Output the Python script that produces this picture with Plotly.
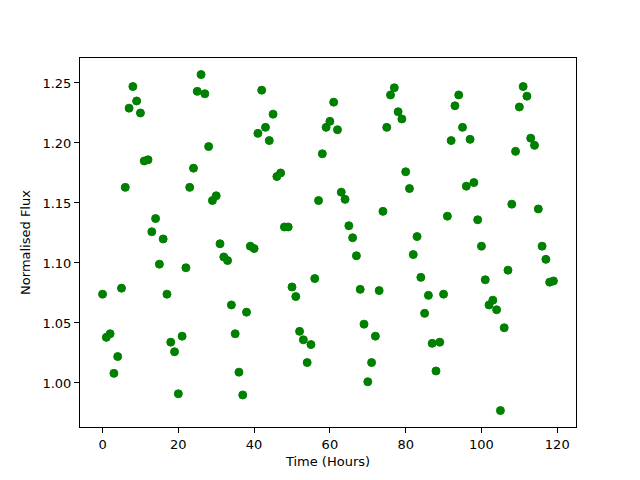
import plotly.graph_objects as go

hours = list(range(120))
flux = [
    1.074, 1.038, 1.041, 1.008, 1.022, 1.079, 1.163, 1.229, 1.247, 1.235,
    1.225, 1.185, 1.186, 1.126, 1.137, 1.099, 1.120, 1.074, 1.034, 1.026,
    0.991, 1.039, 1.096, 1.163, 1.179, 1.243, 1.257, 1.241, 1.197, 1.152,
    1.156, 1.116, 1.105, 1.102, 1.065, 1.041, 1.009, 0.990, 1.059, 1.114,
    1.112, 1.208, 1.244, 1.213, 1.202, 1.224, 1.172, 1.175, 1.130, 1.130,
    1.080, 1.072, 1.043, 1.036, 1.017, 1.032, 1.087, 1.152, 1.191, 1.213,
    1.218, 1.234, 1.211, 1.159, 1.153, 1.131, 1.121, 1.106, 1.078, 1.049,
    1.001, 1.017, 1.039, 1.077, 1.143, 1.213, 1.240, 1.246, 1.226, 1.220,
    1.176, 1.162, 1.107, 1.122, 1.088, 1.058, 1.073, 1.033, 1.010, 1.034,
    1.074, 1.139, 1.202, 1.231, 1.240, 1.213, 1.164, 1.203, 1.167, 1.136,
    1.114, 1.086, 1.065, 1.069, 1.061, 0.977, 1.046, 1.094, 1.149, 1.193,
    1.230, 1.247, 1.239, 1.204, 1.198, 1.145, 1.114, 1.103, 1.084, 1.085,
]
x_ticks = [0, 20, 40, 60, 80, 100, 120]
y_ticks = [1.00, 1.05, 1.10, 1.15, 1.20, 1.25]

fig = go.Figure(go.Scatter(
    x=hours, y=flux, mode="markers",
    marker=dict(color="#008000", size=8, line=dict(color="#008000", width=1)),
))

axis_common = dict(
    showgrid=False, zeroline=False, showline=True, linecolor="black",
    linewidth=1, mirror=True, ticks="outside", ticklen=5, tickwidth=1,
    tickcolor="black", tickfont=dict(family="DejaVu Sans", size=13, color="black"),
)
fig.update_xaxes(range=[-5.95, 124.95], tickvals=x_ticks,
                 title=dict(text="Time (Hours)", font=dict(family="DejaVu Sans", size=13, color="black"), standoff=6),
                 **axis_common)
fig.update_yaxes(range=[0.9633, 1.2708], tickvals=y_ticks, tickformat=".2f",
                 title=dict(text="Normalised Flux", font=dict(family="DejaVu Sans", size=13, color="black"), standoff=8),
                 **axis_common)
fig.update_layout(
    width=640, height=480, plot_bgcolor="white", paper_bgcolor="white",
    margin=dict(l=72, r=72, t=50, b=61), showlegend=False,
    font=dict(family="DejaVu Sans"),
)
fig.write_html("out.html")
